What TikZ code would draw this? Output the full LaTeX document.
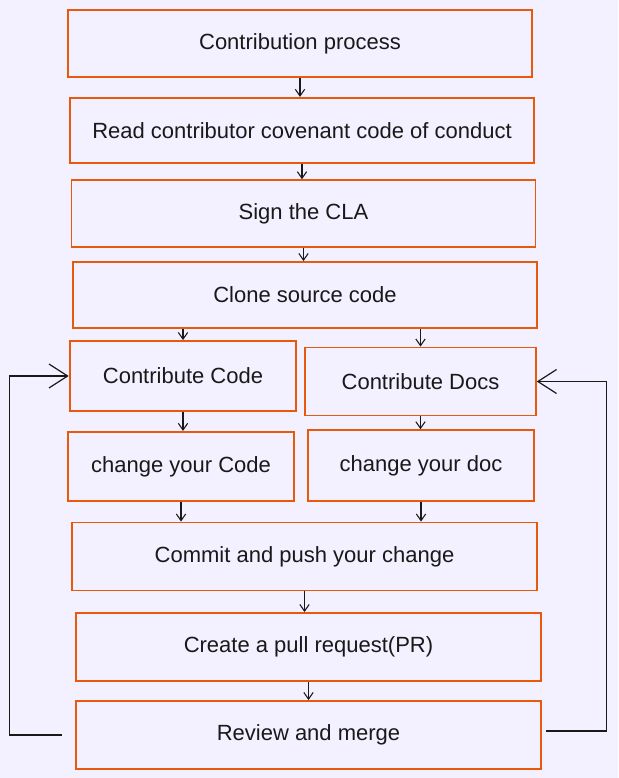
\documentclass[tikz,border=0pt]{standalone}
\usepackage{fontspec}
\setmainfont{Liberation Sans}
\usetikzlibrary{arrows.meta}
\usetikzlibrary{positioning}
\usepackage{xcolor}
\definecolor{mybg}{HTML}{F3F0FF}
\definecolor{myorange}{HTML}{E8590C}
\colorlet{myink}{black!90}
\tikzset{
  >={Straight Barb[length=5pt,width=7pt]},
  box/.style={draw=myorange,line width=1.4pt,minimum height=51pt,inner sep=2pt,font=\fontsize{16.5}{19}\selectfont,text=myink},
  wide/.style={box,minimum width=348pt},
  half/.style={box,minimum width=170pt},
  connect/.style={->,myink,line width=0.8pt},
  back/.style={-{Straight Barb[length=14pt,width=18pt]},myink,line width=0.9pt}
}
\begin{document}
\begin{tikzpicture}[x=0.75pt,y=-0.75pt]
  \fill[mybg] (0,0) rectangle (618,778);
  \useasboundingbox (0,0) rectangle (618,778);

  % --- MAIN COLUMN ---
  \node[wide, minimum height=50pt] (start) at (300,43.5) {Contribution process};
  \node[wide, minimum height=49pt] (coc) at (302,130.5) {Read contributor covenant code of conduct};
  \node[wide, minimum height=50pt] (cla) at (303.5,213.5) {Sign the CLA};
  \node[wide, minimum height=49.5pt] (clone) at (305,295) {Clone source code};

  % --- TWO BRANCHES ---
  \node[half, minimum height=52.5pt] (code) at (183,376) {Contribute Code};
  \node[half, minimum width=173pt] (docs) at (420.5,381.5) {Contribute Docs};
  \node[half, minimum height=52pt] (editcode) at (181,466.5) {change your Code};
  \node[half, minimum height=53pt] (editdoc) at (421,465.5) {change your doc};

  % --- MERGE BACK ---
  \node[wide, minimum width=349pt] (commit) at (304.5,556.5) {Commit and push your change};
  \node[wide, minimum width=349pt] (pr) at (308.5,647) {Create a pull request(PR)};
  \node[wide, minimum width=349pt] (review) at (308.5,735) {Review and merge};

  % Connections
  \foreach \a/\b in {start/coc,coc/cla,cla/clone,code/editcode,docs/editdoc,editcode/commit,editdoc/commit,commit/pr,pr/review}
    \draw[connect] (\a.south) -- (\a.south |- \b.north);
  \foreach \b in {code,docs}
    \draw[connect] (\b.north |- clone.south) -- (\b.north);

  % Loops back after review
  \draw[back] ([xshift=-10pt]review.west) -- ++(-52,0) |- (code.west);
  \draw[back] ([xshift=3pt,yshift=3pt]review.east) -- ++(60,0) |- (docs.east);

\end{tikzpicture}
\end{document}
